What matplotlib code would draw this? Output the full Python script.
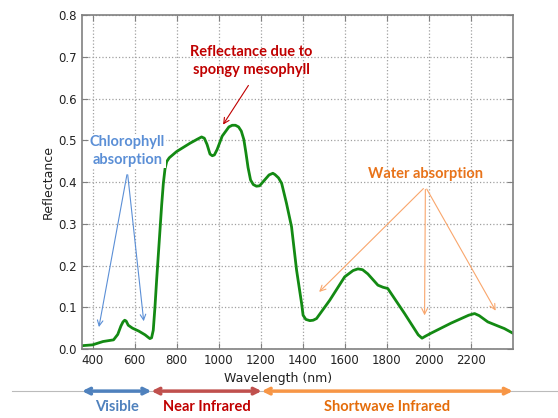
import matplotlib
matplotlib.use('Agg')
import matplotlib.pyplot as plt
import matplotlib.transforms as mtransforms

# Espectro de reflectancia de una hoja verde
wavelength = [350, 400, 450, 500, 520, 535, 545, 553, 560, 570, 590, 620, 650, 665,
              673, 681, 689, 697, 705, 713, 721, 729, 737, 745, 753, 765, 800, 864,
              900, 919, 932, 945, 959, 970, 980, 993, 1017, 1049, 1065, 1080, 1095,
              1108, 1120, 1130, 1140, 1152, 1165, 1180, 1195, 1214, 1240, 1258, 1268,
              1285, 1300, 1323, 1347, 1371, 1395, 1402, 1415, 1434, 1450, 1466, 1529,
              1600, 1640, 1663, 1685, 1710, 1758, 1782, 1805, 1885, 1950, 1968, 1985,
              2011, 2106, 2190, 2218, 2240, 2281, 2330, 2360, 2400]
reflectance = [0.008, 0.010, 0.018, 0.022, 0.035, 0.055, 0.065, 0.069, 0.067, 0.057,
               0.050, 0.043, 0.034, 0.028, 0.025, 0.027, 0.045, 0.100, 0.165, 0.225,
               0.285, 0.345, 0.397, 0.432, 0.449, 0.458, 0.473, 0.493, 0.503, 0.508,
               0.505, 0.490, 0.467, 0.463, 0.465, 0.478, 0.510, 0.532, 0.536, 0.536,
               0.532, 0.522, 0.502, 0.470, 0.435, 0.405, 0.394, 0.390, 0.391, 0.402,
               0.417, 0.421, 0.418, 0.410, 0.397, 0.349, 0.293, 0.189, 0.109, 0.081,
               0.071, 0.068, 0.069, 0.073, 0.117, 0.173, 0.188, 0.192, 0.190, 0.180,
               0.153, 0.148, 0.145, 0.085, 0.034, 0.026, 0.031, 0.038, 0.062, 0.081,
               0.085, 0.080, 0.065, 0.055, 0.049, 0.038]

x_ticks = [400, 600, 800, 1000, 1200, 1400, 1600, 1800, 2000, 2200]
y_ticks = [0.0, 0.1, 0.2, 0.3, 0.4, 0.5, 0.6, 0.7, 0.8]

# Regiones del espectro (limites en nm)
band_names = ['Visible', 'Near Infrared', 'Shortwave Infrared']
band_edges = [350, 680, 1205, 2400]
band_arrow_colors = ['#4f81bd', '#c0504d', '#f79646']
band_text_colors = ['#4f81bd', '#c00000', '#e46c0a']

# Zonas de absorcion senaladas con flechas
chloro_apex = (566, 0.424)
chloro_targets = [(428, 0.046), (645, 0.060)]
water_apex = (1984, 0.389)
water_targets = [(1469, 0.132), (1980, 0.074), (2325, 0.086)]
meso_tail = (1149, 0.637)
meso_head = (1014, 0.532)

BLUE = '#5b8fd6'
RED = '#c00000'
ORANGE = '#e8731a'

fig = plt.figure(figsize=(5.58, 4.18), dpi=100)
ax = fig.add_axes([0.147, 0.165, 0.772, 0.799])

ax.plot(wavelength, reflectance, color='#138a13', linewidth=2)

ax.set_xlim(350, 2400)
ax.set_ylim(0, 0.8)
ax.set_xticks(x_ticks)
ax.set_yticks(y_ticks)
ax.set_yticklabels([f'{v:.1f}' for v in y_ticks])
ax.tick_params(direction='in', top=True, right=True, labelsize=8.5,
               colors='#808080', labelcolor='#222222', length=4)
for spine in ax.spines.values():
    spine.set_color('#808080')
    spine.set_linewidth(1.2)
ax.grid(True, linestyle=':', color='#a0a0a0', linewidth=0.9)
ax.set_axisbelow(True)

ax.set_ylabel('Reflectance', fontsize=9, color='#222222', labelpad=3)
ax.set_xlabel('Wavelength (nm)', fontsize=9, color='#222222')
ax.xaxis.set_label_coords(0.456, -0.068)

bold = dict(family='Lato', fontweight='bold', fontsize=10.5)

# Absorcion por clorofila
ax.text(chloro_apex[0], 0.474, 'Chlorophyll\nabsorption', color=BLUE, ha='center',
        va='center', linespacing=1.35,
        bbox=dict(facecolor='white', edgecolor='none', pad=0.5), **bold)
for target in chloro_targets:
    ax.annotate('', xy=target, xytext=chloro_apex,
                arrowprops=dict(arrowstyle='->', color=BLUE, lw=0.8))

# Mesofilo esponjoso
ax.text(1155, 0.689, 'Reflectance due to\nspongy mesophyll', color=RED, ha='center',
        va='center', linespacing=1.35, **bold)
ax.annotate('', xy=meso_head, xytext=meso_tail,
            arrowprops=dict(arrowstyle='->', color=RED, lw=0.8))

# Absorcion por agua
ax.text(water_apex[0], 0.419, 'Water absorption', color=ORANGE, ha='center',
        va='center', **bold)
for target in water_targets:
    ax.annotate('', xy=target, xytext=water_apex,
                arrowprops=dict(arrowstyle='->', color='#f9a66c', lw=0.8))

# Regiones del espectro bajo el eje
trans = mtransforms.blended_transform_factory(ax.transData, ax.transAxes)
ax.plot([17, 2620], [-0.126, -0.126], transform=trans, color='#bbbbbb',
        linewidth=0.8, clip_on=False)
for i, name in enumerate(band_names):
    x0, x1 = band_edges[i], band_edges[i + 1]
    ax.annotate('', xy=(x1, -0.126), xytext=(x0, -0.126), xycoords=trans,
                textcoords=trans, annotation_clip=False,
                arrowprops=dict(arrowstyle='<->', color=band_arrow_colors[i], lw=2.5,
                                shrinkA=0, shrinkB=0, mutation_scale=10))
    ax.text((x0 + x1) / 2, -0.174, name, transform=trans, color=band_text_colors[i],
            ha='center', va='center', **bold)

fig.savefig('out.png', dpi=100)
